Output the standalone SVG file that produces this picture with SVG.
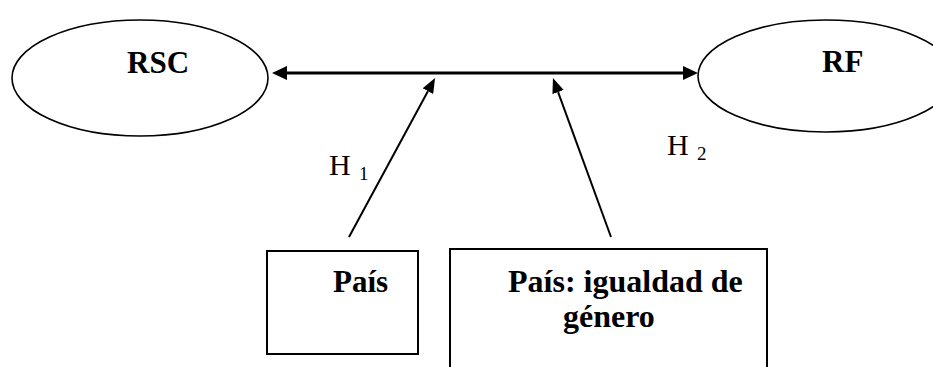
<svg xmlns="http://www.w3.org/2000/svg" width="933" height="367" viewBox="0 0 933 367">
  <style>
    .shape { fill: #ffffff; stroke: #000000; stroke-width: 1.6; }
    .box { fill: #ffffff; stroke: #000000; stroke-width: 2; }
    .conn { fill: none; stroke: #000000; }
    .bold { font-family: "Liberation Serif", "Times New Roman", serif; font-weight: bold; font-size: 31px; fill: #000000; }
    .bold-lg { font-size: 32px; }
    .lbl { font-family: "Liberation Serif", "Times New Roman", serif; font-size: 30px; fill: #000000; }
    .sub { font-family: "Liberation Serif", "Times New Roman", serif; font-size: 19px; fill: #000000; }
  </style>
  <defs>
    <marker id="head" viewBox="0 0 15 14" refX="0" refY="7" markerWidth="15" markerHeight="14" markerUnits="userSpaceOnUse" orient="auto-start-reverse">
      <path d="M0,0 L15,7 L0,14 z" fill="#000000"/>
    </marker>
    <marker id="head2" viewBox="0 0 15 12" refX="0" refY="6" markerWidth="15" markerHeight="12" markerUnits="userSpaceOnUse" orient="auto">
      <path d="M0,0 L15,6 L0,12 z" fill="#000000"/>
    </marker>
  </defs>

  <g id="rsc">
    <ellipse class="shape" cx="140" cy="78" rx="128" ry="58"/>
    <text class="bold" x="127" y="73">RSC</text>
  </g>

  <g id="rf">
    <ellipse class="shape" cx="826" cy="76" rx="128" ry="56"/>
    <text class="bold" x="822" y="72">RF</text>
  </g>

  <g id="pais">
    <rect class="box" x="267" y="251" width="151" height="103"/>
    <text class="bold" x="333" y="292">País</text>
  </g>

  <g id="pais-igualdad">
    <rect class="box" x="450" y="249" width="317" height="140"/>
    <text class="bold bold-lg" x="508" y="292">País: igualdad de</text>
    <text class="bold bold-lg" x="563" y="327">género</text>
  </g>

  <g id="connectors">
    <line class="conn" x1="287" y1="73" x2="683" y2="73" stroke-width="3" marker-start="url(#head)" marker-end="url(#head)"/>
    <line class="conn" x1="349" y1="237" x2="427.9" y2="91.2" stroke-width="2" marker-end="url(#head2)"/>
    <line class="conn" x1="611" y1="237" x2="558.1" y2="92.1" stroke-width="2" marker-end="url(#head2)"/>
  </g>

  <g id="labels">
    <text class="lbl" x="329" y="175">H</text>
    <text class="sub" x="359" y="180">1</text>
    <text class="lbl" x="667" y="155">H</text>
    <text class="sub" x="697" y="160">2</text>
  </g>
</svg>
